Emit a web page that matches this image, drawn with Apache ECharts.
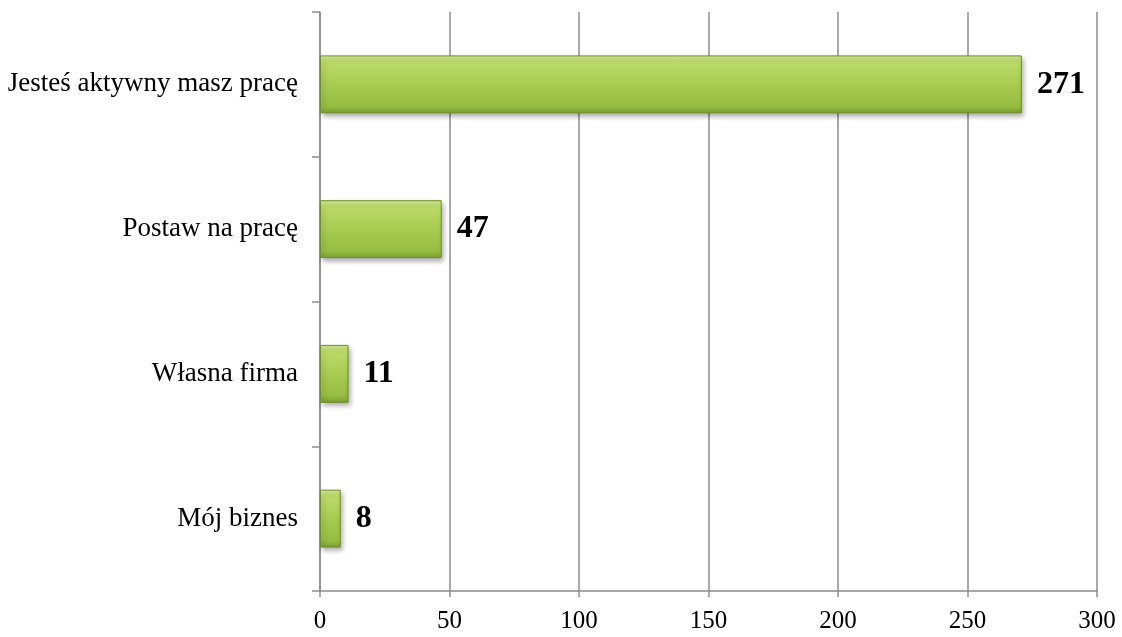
<!DOCTYPE html>
<html>
<head>
<meta charset="utf-8">
<script src="https://cdn.jsdelivr.net/npm/echarts@6/dist/echarts.min.js"></script>
<style>
html,body{margin:0;padding:0;background:#fff;}
#chart{width:1122px;height:637px;}
</style>
</head>
<body>
<div id="chart"></div>
<script>
const categories = ["Jesteś aktywny masz pracę", "Postaw na pracę", "Własna firma", "Mój biznes"];
const values = [271, 47, 11, 8];
const xTicks = { min: 0, max: 300, interval: 50 };

const chart = echarts.init(document.getElementById('chart'));
const font = '"Liberation Serif", "DejaVu Serif", serif';
chart.setOption({
  animation: false,
  backgroundColor: '#ffffff',
  grid: { left: 320, right: 25, top: 12, bottom: 46, containLabel: false },
  xAxis: {
    type: 'value',
    min: xTicks.min, max: xTicks.max, interval: xTicks.interval,
    axisLine: { show: true, lineStyle: { color: '#8c8c8c', width: 1.5 } },
    axisTick: { show: true, length: 6, lineStyle: { color: '#8c8c8c', width: 1.5 } },
    axisLabel: { color: '#000', fontFamily: font, fontSize: 25, margin: 18 },
    splitLine: { show: true, lineStyle: { color: '#8c8c8c', width: 1.5 } }
  },
  yAxis: {
    type: 'category',
    data: categories,
    inverse: true,
    axisLine: { show: true, lineStyle: { color: '#8c8c8c', width: 1.5 } },
    axisTick: { show: true, length: 8, lineStyle: { color: '#8c8c8c', width: 1.5 } },
    axisLabel: { color: '#000', fontFamily: font, fontSize: 27, margin: 22 }
  },
  series: [{
    type: 'bar',
    data: values,
    barCategoryGap: '60%',
    itemStyle: {
      color: new echarts.graphic.LinearGradient(0, 0, 0, 1, [
        { offset: 0, color: '#d6ee92' },
        { offset: 0.12, color: '#bcdb6a' },
        { offset: 0.5, color: '#a8cb50' },
        { offset: 0.88, color: '#96bd42' },
        { offset: 1, color: '#7b9e30' }
      ]),
      borderColor: '#6f8f2a',
      borderWidth: 1,
      shadowColor: 'rgba(0,0,0,0.35)',
      shadowBlur: 5,
      shadowOffsetX: 2,
      shadowOffsetY: 3
    },
    label: {
      show: true,
      position: 'right',
      distance: 15,
      color: '#000',
      fontFamily: font,
      fontWeight: 'bold',
      fontSize: 32
    }
  }]
});
</script>
</body>
</html>
